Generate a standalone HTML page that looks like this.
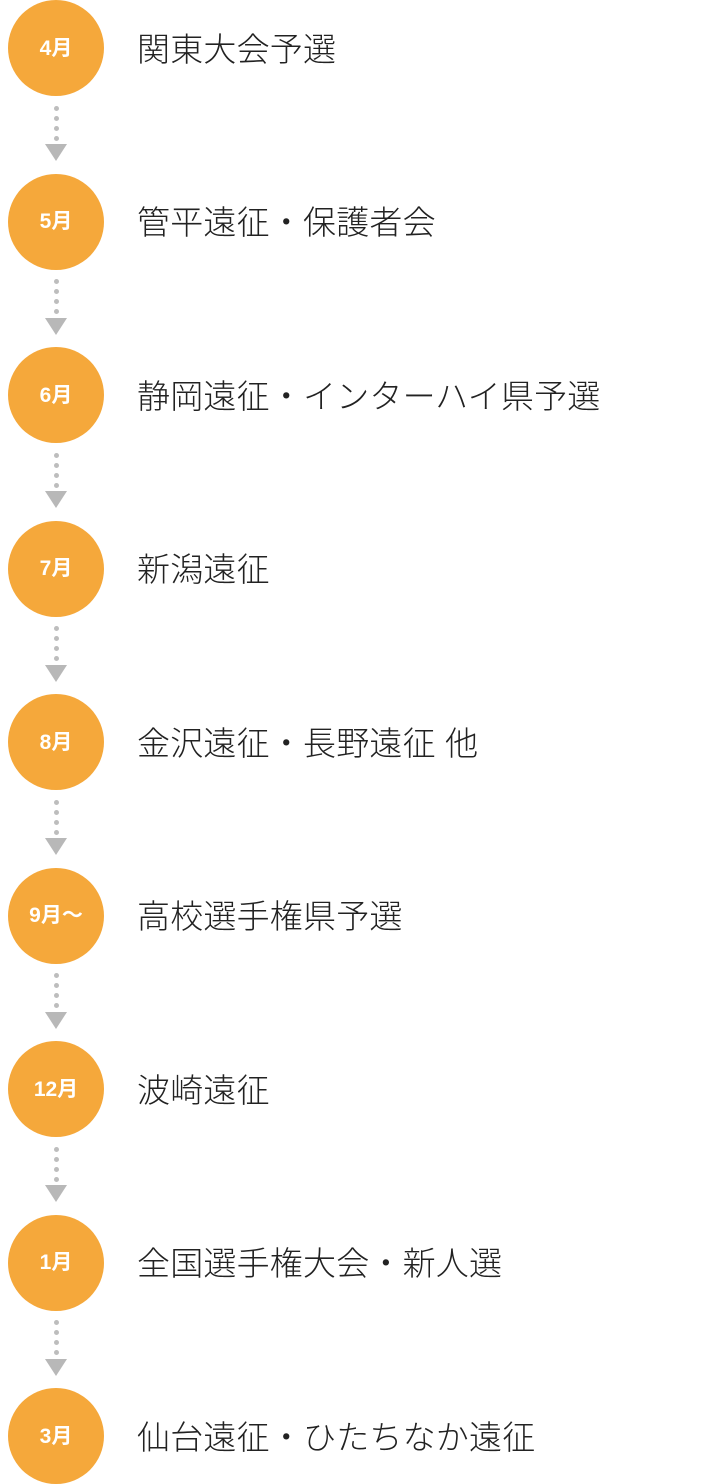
<!DOCTYPE html>
<html lang="ja">
<head>
<meta charset="utf-8">
<style>
  html, body { margin:0; padding:0; background:#fff; }
  body { width:720px; height:1484px; position:relative; overflow:hidden;
         font-family:"Liberation Sans","Noto Sans CJK JP",sans-serif; }
  .c { position:absolute; left:8px; width:96px; height:96px; border-radius:50%;
       background:#F5A83B; color:#fff; font-weight:bold; font-size:21px;
       display:flex; align-items:center; justify-content:center; line-height:1; }
  .t { position:absolute; left:137px; font-size:33px; line-height:1; color:#222;
       white-space:nowrap; font-weight:300; letter-spacing:0.2px; }
  .d { position:absolute; left:54px; width:5px; height:5px; border-radius:50%; background:#bdbdbd; }
  .a { position:absolute; left:45px; width:0; height:0;
       border-left:11.5px solid transparent; border-right:11.5px solid transparent;
       border-top:17px solid #b8b8b8; }
</style>
</head>
<body>
<div class="c" style="top:0px">4月</div>
<div class="t" style="top:32.5px">関東大会予選</div>
<div class="d" style="top:105.5px"></div><div class="d" style="top:115.5px"></div><div class="d" style="top:125.5px"></div><div class="d" style="top:135.5px"></div>
<div class="a" style="top:144px"></div>

<div class="c" style="top:173.5px">5月</div>
<div class="t" style="top:206px">管平遠征・保護者会</div>
<div class="d" style="top:279px"></div><div class="d" style="top:289px"></div><div class="d" style="top:299px"></div><div class="d" style="top:309px"></div>
<div class="a" style="top:317.5px"></div>

<div class="c" style="top:347px">6月</div>
<div class="t" style="top:379.5px">静岡遠征・インターハイ県予選</div>
<div class="d" style="top:452.5px"></div><div class="d" style="top:462.5px"></div><div class="d" style="top:472.5px"></div><div class="d" style="top:482.5px"></div>
<div class="a" style="top:491px"></div>

<div class="c" style="top:520.5px">7月</div>
<div class="t" style="top:553px">新潟遠征</div>
<div class="d" style="top:626px"></div><div class="d" style="top:636px"></div><div class="d" style="top:646px"></div><div class="d" style="top:656px"></div>
<div class="a" style="top:664.5px"></div>

<div class="c" style="top:694px">8月</div>
<div class="t" style="top:726.5px">金沢遠征・長野遠征 他</div>
<div class="d" style="top:799.5px"></div><div class="d" style="top:809.5px"></div><div class="d" style="top:819.5px"></div><div class="d" style="top:829.5px"></div>
<div class="a" style="top:838px"></div>

<div class="c" style="top:867.5px">9月～</div>
<div class="t" style="top:900px">高校選手権県予選</div>
<div class="d" style="top:973px"></div><div class="d" style="top:983px"></div><div class="d" style="top:993px"></div><div class="d" style="top:1003px"></div>
<div class="a" style="top:1011.5px"></div>

<div class="c" style="top:1041px">12月</div>
<div class="t" style="top:1073.5px">波崎遠征</div>
<div class="d" style="top:1146.5px"></div><div class="d" style="top:1156.5px"></div><div class="d" style="top:1166.5px"></div><div class="d" style="top:1176.5px"></div>
<div class="a" style="top:1185px"></div>

<div class="c" style="top:1214.5px">1月</div>
<div class="t" style="top:1247px">全国選手権大会・新人選</div>
<div class="d" style="top:1320px"></div><div class="d" style="top:1330px"></div><div class="d" style="top:1340px"></div><div class="d" style="top:1350px"></div>
<div class="a" style="top:1358.5px"></div>

<div class="c" style="top:1388px">3月</div>
<div class="t" style="top:1420.5px">仙台遠征・ひたちなか遠征</div>
</body>
</html>
